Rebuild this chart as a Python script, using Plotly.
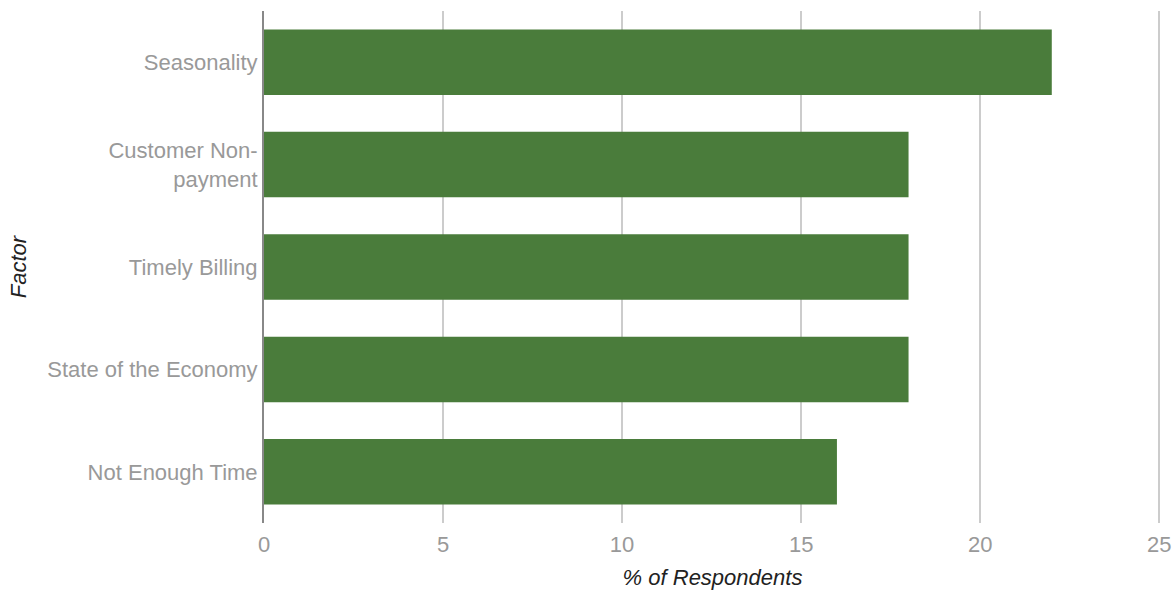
import plotly.graph_objects as go

# Factors affecting collections, % of respondents
factors = ["Not Enough Time", "State of the Economy", "Timely Billing",
           "Customer Non-<br>payment", "Seasonality"]
percent = [16, 18, 18, 18, 22]

fig = go.Figure(
    go.Bar(
        x=percent,
        y=factors,
        orientation="h",
        marker=dict(color="#4a7c3b", line=dict(width=0)),
    )
)

fig.update_layout(
    width=1176,
    height=594,
    margin=dict(l=264, r=15, t=11, b=71),
    paper_bgcolor="white",
    plot_bgcolor="white",
    bargap=0.36,
    showlegend=False,
    font=dict(family="Liberation Sans, Arial, sans-serif", size=22, color="#999999"),
)

fig.update_xaxes(
    range=[0, 25.05],
    tickvals=[0, 5, 10, 15, 20, 25],
    automargin=False,
    showgrid=True,
    gridcolor="#cccccc",
    gridwidth=2,
    zeroline=False,
    showline=False,
    ticks="",
    ticklabelstandoff=6,
    tickfont=dict(size=22, color="#999999"),
    title=dict(text="<i>% of Respondents</i>", font=dict(size=22, color="#222222"), standoff=13),
)

fig.update_yaxes(
    automargin=False,
    showgrid=False,
    showline=True,
    linecolor="#888888",
    linewidth=2,
    ticks="",
    ticklabelstandoff=0,
    tickfont=dict(size=22, color="#999999"),
    title=dict(text="<i>Factor</i>", font=dict(size=22, color="#222222"), standoff=15),
)

fig.write_html("out.html")
